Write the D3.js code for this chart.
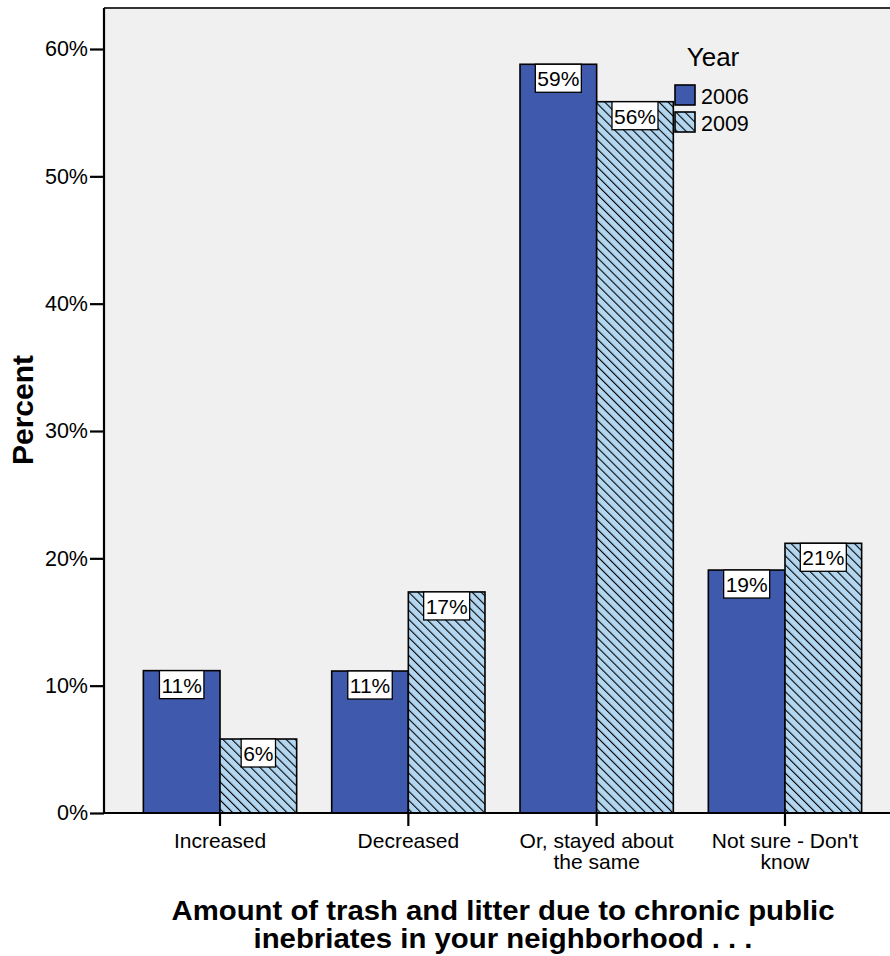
<!DOCTYPE html>
<html>
<head>
<meta charset="utf-8">
<script src="https://cdn.jsdelivr.net/npm/d3@7"></script>
<style>
  html, body { margin: 0; padding: 0; background: #ffffff; }
  svg { display: block; font-family: "Liberation Sans", Arial, sans-serif; }
</style>
</head>
<body>
<svg id="chart" width="890" height="956"></svg>
<script>
// Survey responses: share of respondents per answer, by survey year
const categories = ["Increased", "Decreased", "Or, stayed about the same", "Not sure - Don't know"];
const categoryLines = [["Increased"], ["Decreased"], ["Or, stayed about", "the same"], ["Not sure - Don't", "know"]];
const years = ["2006", "2009"];
const values2006 = [11.18, 11.15, 58.8, 19.08];
const values2009 = [5.81, 17.36, 55.86, 21.18];
const yTicks = [0, 10, 20, 30, 40, 50, 60];

const svg = d3.select("#chart");

const plotLeft = 104, plotTop = 8, plotBottom = 813, plotRight = 901;

const x = d3.scaleBand()
  .domain(categories)
  .range([plotLeft, plotRight])
  .paddingInner(0.186)
  .paddingOuter(0.209);

const xInner = d3.scaleBand()
  .domain(years)
  .range([0, x.bandwidth()]);

const y = d3.scaleLinear()
  .domain([0, 60])
  .range([plotBottom, 49]);

// Diagonal hatch for the 2009 series
const defs = svg.append("defs");
const pat = defs.append("pattern")
  .attr("id", "hatch")
  .attr("patternUnits", "userSpaceOnUse")
  .attr("width", 6.4)
  .attr("height", 6.4)
  .attr("patternTransform", "rotate(-45)");
pat.append("rect").attr("width", 6.4).attr("height", 6.4).attr("fill", "#b4d7f1");
pat.append("line")
  .attr("x1", 0).attr("y1", 0).attr("x2", 0).attr("y2", 6.4)
  .attr("stroke", "#000").attr("stroke-width", 2.2);

const fills = { "2006": "#3f59ad", "2009": "url(#hatch)" };

// Plot background and frame
svg.append("rect")
  .attr("x", plotLeft).attr("y", plotTop)
  .attr("width", 900 - plotLeft).attr("height", plotBottom - plotTop)
  .attr("fill", "#f0f0f0");
svg.append("line")
  .attr("x1", plotLeft).attr("x2", 900).attr("y1", plotTop).attr("y2", plotTop)
  .attr("stroke", "#333").attr("stroke-width", 2);

// Bars
const rows = categories.map((c, i) => ({ cat: c, vals: [
  { year: "2006", v: values2006[i] },
  { year: "2009", v: values2009[i] }
]}));

const groups = svg.append("g").selectAll("g")
  .data(rows)
  .join("g")
  .attr("transform", d => `translate(${x(d.cat)},0)`);

groups.selectAll("rect.bar")
  .data(d => d.vals)
  .join("rect")
  .attr("class", "bar")
  .attr("x", d => xInner(d.year))
  .attr("y", d => y(d.v))
  .attr("width", xInner.bandwidth())
  .attr("height", d => y(0) - y(d.v))
  .attr("fill", d => fills[d.year])
  .attr("stroke", "#000")
  .attr("stroke-width", 1.6);

// Value labels in white boxes at the top of each bar
const lab = groups.selectAll("g.lab")
  .data(d => d.vals)
  .join("g")
  .attr("class", "lab")
  .attr("transform", d => `translate(${xInner(d.year) + xInner.bandwidth() / 2},${y(d.v)})`);

lab.append("text")
  .attr("text-anchor", "middle")
  .attr("y", 22)
  .attr("font-size", 21)
  .attr("fill", "#000")
  .text(d => Math.round(d.v) + "%")
  .each(function () {
    const bb = this.getBBox();
    d3.select(this.parentNode).insert("rect", "text")
      .attr("x", -bb.width / 2 - 2)
      .attr("y", 0)
      .attr("width", bb.width + 4)
      .attr("height", 28)
      .attr("fill", "#fff")
      .attr("stroke", "#000")
      .attr("stroke-width", 1.3);
  });

// Y axis
const yAxis = d3.axisLeft(y)
  .tickValues(yTicks)
  .tickSize(14)
  .tickPadding(2)
  .tickFormat(d => d + "%");
const gy = svg.append("g")
  .attr("transform", `translate(${plotLeft},0)`)
  .call(yAxis);
gy.select(".domain").attr("d", `M0,${plotTop}V${plotBottom}`).attr("stroke-width", 2.2);
gy.selectAll(".tick line").attr("stroke-width", 2.2);
gy.selectAll(".tick text")
  .attr("font-size", 21.5)
  .attr("font-family", "'Liberation Sans', Arial, sans-serif")
  .attr("fill", "#000");

// X axis
const xAxis = d3.axisBottom(x).tickSize(13).tickFormat(() => "");
const gx = svg.append("g")
  .attr("transform", `translate(0,${plotBottom})`)
  .call(xAxis);
gx.select(".domain").attr("d", `M${plotLeft},0H900`).attr("stroke-width", 2.2);
gx.selectAll(".tick line").attr("stroke-width", 2.2);

// Category labels (wrapped)
const catLab = svg.append("g").selectAll("text")
  .data(categories)
  .join("text")
  .attr("x", d => x(d) + x.bandwidth() / 2)
  .attr("y", 848)
  .attr("text-anchor", "middle")
  .attr("font-size", 21)
  .attr("fill", "#000");
catLab.each(function (d, i) {
  const t = d3.select(this);
  categoryLines[i].forEach((line, j) => {
    t.append("tspan")
      .attr("x", x(d) + x.bandwidth() / 2)
      .attr("dy", j === 0 ? 0 : 21)
      .text(line);
  });
});

// Axis titles
svg.append("text")
  .attr("transform", "translate(33,410) rotate(-90)")
  .attr("text-anchor", "middle")
  .attr("font-size", 30)
  .attr("font-weight", "bold")
  .attr("fill", "#000")
  .text("Percent");

const xTitle = ["Amount of trash and litter due to chronic public", "inebriates in your neighborhood . . ."];
const xTitleWidths = [663, 499];
const xt = svg.append("text")
  .attr("text-anchor", "middle")
  .attr("font-size", 28)
  .attr("font-weight", "bold")
  .attr("fill", "#000");
xt.selectAll("tspan")
  .data(xTitle)
  .join("tspan")
  .attr("x", 503)
  .attr("y", (d, i) => 920 + i * 28)
  .attr("textLength", (d, i) => xTitleWidths[i])
  .attr("lengthAdjust", "spacingAndGlyphs")
  .text(d => d);

// Legend
const legend = svg.append("g").attr("transform", "translate(675,0)");
legend.append("text")
  .attr("x", 38).attr("y", 66)
  .attr("text-anchor", "middle")
  .attr("font-size", 26)
  .attr("fill", "#000")
  .text("Year");
const li = legend.selectAll("g.item")
  .data(years)
  .join("g")
  .attr("class", "item")
  .attr("transform", (d, i) => `translate(0,${85 + i * 27})`);
li.append("rect")
  .attr("width", 20).attr("height", 20)
  .attr("fill", d => fills[d])
  .attr("stroke", "#000")
  .attr("stroke-width", 1.6);
li.append("text")
  .attr("x", 26).attr("y", 19)
  .attr("font-size", 21.5)
  .attr("fill", "#000")
  .text(d => d);
</script>
</body>
</html>
